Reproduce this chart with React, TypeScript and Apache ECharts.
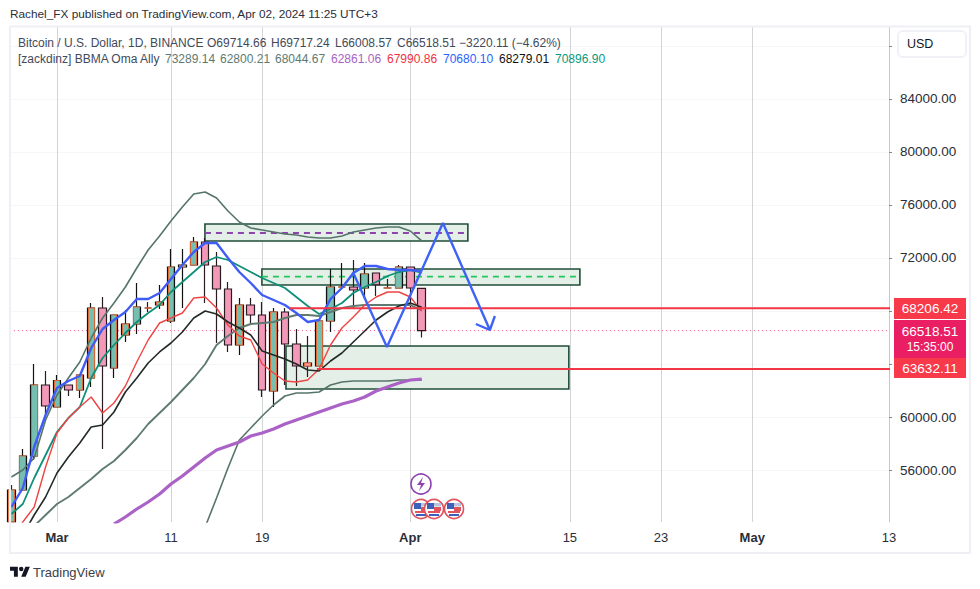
import React, { useEffect, useRef } from "react";
import * as echarts from "echarts";

const FIRST_DAY = -4; // day numbers count from Mar 1 = 0
const opens = [52100,54491,57057,62415,60755,62415,62038,62943,68226,63698,66188,67019,68226,68453,67245,71320,71471,73208,71396,69660,65434,68453,67698,61962,67924,65509,64075,63849,67245,69811,69811,69736,70868,69736,69736,71320,69714.66];
const closes = [54491,57057,62415,60830,62755,62038,63170,68226,63849,67698,67019,68302,68226,68679,71320,71471,73208,71471,69660,65434,68453,67698,62038,67924,65509,63849,63849,67245,69811,69811,69585,70792,69981,69736,71320,69736,66518.51];
const lows = [52100,54491,56755,60151,60755,61585,61434,62264,57585,62943,65660,66264,67924,68151,67094,68226,71471,68603,65585,64906,64679,66943,61509,60755,62415,62340,63019,63849,66415,69811,68151,68906,69132,69736,69736,68226,66008.57];
const highs = [54868,57585,64000,63471,63170,62415,63170,68603,69056,67698,68075,70113,68679,69962,72679,72679,73585,73509,72453,70189,68981,68981,68679,68226,68226,66641,66113,67245,71170,71623,71849,71623,70868,70415,71471,71320,69717.24];
const upperBand = [55472,56000,56906,59774,61660,62943,64151,65962,67471,68603,69811,71245,72603,73660,74792,75849,76830,76981,76528,75547,74717,74264,74113,73962,73811,73735,73585,73509,73509,73660,73962,74113,74264,74339,74339,74037,73289];
const middleBand = [51094,51472,51774,52604,53434,53962,54642,55321,56075,56679,57509,58415,59472,60302,61132,62038,62943,64000,65434,66113,66717,67019,67094,67170,67471,67698,67698,67623,67924,68226,68377,68453,68453,68453,68453,68453,68045];
const lowerBand = [null,null,null,null,null,null,null,null,null,null,null,null,null,null,null,null,49434,51698,53887,56151,58264,59170,60075,60906,61585,61811,61811,61887,62415,62641,62717,62717,62717,62717,62792,62792,62800];
const purpleLine = [null,null,null,null,null,null,null,null,null,51925,52453,53057,53585,54189,54943,55547,56226,56906,57509,57811,58113,58566,58792,59094,59472,59774,60075,60377,60679,60981,61208,61509,61962,62264,62566,62792,62861];
const blueLine = [53208,54642,57736,60151,62189,62717,63094,65208,66641,67321,67924,68906,68906,69358,70415,71471,72453,73132,73132,72000,70943,70113,69207,68830,68453,67849,67170,67321,68906,69736,70868,71396,71396,71170,71094,71094,71000];
const greenLine = [52679,53434,55396,57132,58868,59924,60755,62943,64453,65434,66339,67170,67849,68453,69434,70189,70943,71698,72075,71849,71396,70943,70490,70113,69736,69056,68377,67773,68151,68603,69358,69811,70189,70641,70943,71094,70897];
const redLine = [50717,52076,53208,56226,58792,59924,60755,61509,60302,61057,62340,64151,65811,67094,67471,67849,68981,69056,68226,66943,66113,65811,64000,63321,62717,62641,62792,63623,65434,66717,67547,68453,69056,69434,69434,69056,67991];
const blackLine = [49962,51094,52604,53962,55774,56981,58038,59245,59396,60377,61887,62943,64075,64906,65585,66415,67471,68000,67773,67170,66717,66188,64981,64679,64377,64000,63547,63472,64226,64830,65660,66490,67321,67924,68377,68603,68279];

const orangeEdgedDownDays = [8, 11, 22];
const priceTicks = [56000,60000,64000,68000,72000,76000,80000,84000,88000];
const priceLabels = [56000,60000,72000,76000,80000,84000];
const timeTicks = [0,10,18,31,45,53,61,73];
const timeLabels: Record<number,string> = {0:"Mar",10:"11",18:"19",31:"Apr",45:"15",53:"23",61:"May",73:"13"};
const boldLabels = ["Mar","Apr","May"];

const zones = [
  { from: 12.98, to: 36.05, top: 74566, bottom: 73283 },
  { from: 17.98, to: 45.88, top: 71170, bottom: 69962 },
  { from: 20.09, to: 44.91, top: 65358, bottom: 62113 },
];
const purpleDash = [[12.98,73886],[36.05,73886]];
const greenDash = [[17.98,70600],[45.88,70600]];
const resistance = [[20.4,68206.42],[73.5,68206.42]];
const support = [[22.8,63632.11],[73.5,63632.11]];
const lastPrice = [[-4.13,66518.51],[73.5,66518.51]];
const forecastPath = [[25.96,70943],[28.95,65283],[33.86,74641],[37.98,66566],[36.75,67019],[37.98,66566],[38.42,67623]];

const titleText = "Rachel_FX published on TradingView.com, Apr 02, 2024 11:25 UTC+3";
const legendRow1 = [
  { t: "Bitcoin / U.S. Dollar, 1D, BINANCE", x: 18 },
  { t: "O69714.66", x: 207 },
  { t: "H69717.24", x: 271 },
  { t: "L66008.57", x: 335 },
  { t: "C66518.51", x: 397 },
  { t: "\u22123220.11 (\u22124.62%)", x: 459 },
];
const legendRow2 = [
  { t: "[zackdinz] BBMA Oma Ally", x: 18, c: "#3f4a5a" },
  { t: "73289.14", x: 165, c: "#5d7a70" },
  { t: "62800.21", x: 220, c: "#5d7a70" },
  { t: "68044.67", x: 275, c: "#5d7a70" },
  { t: "62861.06", x: 331, c: "#a863c4" },
  { t: "67990.86", x: 387, c: "#ef3340" },
  { t: "70680.10", x: 443, c: "#2962ff" },
  { t: "68279.01", x: 499, c: "#111111" },
  { t: "70896.90", x: 555, c: "#089981" },
];
const priceTags = [
  { y: 298, h: 21, c: "#f7394a", lines: ["68206.42"] },
  { y: 320, h: 38, c: "#e91e63", lines: ["66518.51", "15:35:00"] },
  { y: 358, h: 20, c: "#f7394a", lines: ["63632.11"] },
];
const flagCenters = [421, 434, 454];

const FONT = "'Liberation Sans', Arial, sans-serif";
const LOGO = "M14 22H7V11H0V4h14v18zM28 22h-8l7.5-18h8L28 22zM24 8a4 4 0 1 1-8 0a4 4 0 0 1 8 0z";
echarts.graphic.registerShape("tvlogo", echarts.graphic.extendPath(LOGO, {}) as any);

const days = opens.map((_, i) => FIRST_DAY + i);
const withDays = (arr: (number | null)[]) => arr.map((v, i) => [days[i], v]);

function flagIcon(cx: number, z: number) {
  const cy = 509;
  return {
    type: "group",
    children: [
      { type: "circle", z, shape: { cx, cy, r: 9.5 }, style: { fill: "#fff", stroke: "#e2545e", lineWidth: 1.6 } },
      { type: "rect", z: z + 1, shape: { x: cx - 7, y: cy - 6, width: 14, height: 3.5 }, style: { fill: "#b9c6de" } },
      { type: "rect", z: z + 1, shape: { x: cx - 7, y: cy - 6, width: 7, height: 6 }, style: { fill: "#3b62b8" } },
      { type: "rect", z: z + 1, shape: { x: cx, y: cy - 2, width: 7, height: 4 }, style: { fill: "#e2545e" } },
      { type: "rect", z: z + 1, shape: { x: cx - 6, y: cy + 2, width: 12, height: 2 }, style: { fill: "#e2545e" } },
      { type: "rect", z: z + 1, shape: { x: cx - 5, y: cy + 5, width: 10, height: 2 }, style: { fill: "#3b62b8" } },
    ],
  };
}

export default function App() {
  const ref = useRef<HTMLDivElement>(null);
  useEffect(() => {
    document.body.style.margin = "0";
    const chart = echarts.init(ref.current!, undefined, { renderer: "svg" });
    const candles = days.map((d, i) => [d, opens[i], closes[i], lows[i], highs[i]]);
    const inner = days
      .map((d, i) => ({ d, i }))
      .filter(({ d, i }) => closes[i] >= opens[i] || orangeEdgedDownDays.includes(d))
      .map(({ d, i }) => [d, opens[i], closes[i], Math.min(opens[i], closes[i]), Math.max(opens[i], closes[i])]);
    const line = (name: string, data: any[], color: string, width: number, extra: any = {}) => ({
      type: "line", name, data, showSymbol: false, symbol: "none", silent: true, z: 4,
      connectNulls: false, lineStyle: { color, width }, ...extra,
    });
    const text: any[] = [
      { type: "text", x: 10, y: 14, z: 50, style: { text: titleText, fontSize: 11.8, fontFamily: FONT, fill: "#2a2e39", verticalAlign: "middle" } },
      ...legendRow1.map((r) => ({ type: "text", x: r.x, y: 42.5, z: 50, style: { text: r.t, fontSize: 12, fontFamily: FONT, fill: "#3f4a5a", verticalAlign: "middle" } })),
      ...legendRow2.map((r) => ({ type: "text", x: r.x, y: 59, z: 50, style: { text: r.t, fontSize: 12, fontFamily: FONT, fill: r.c, verticalAlign: "middle" } })),
      { type: "rect", z: 40, shape: { x: 10, y: 26.5, width: 960, height: 526.5 }, style: { fill: "none", stroke: "#eff0f6", lineWidth: 2.2 } },
      { type: "rect", z: 41, shape: { x: 898, y: 31, width: 68, height: 26, r: 5 }, style: { fill: "#fff", stroke: "#eff1f6", lineWidth: 2 } },
      { type: "text", x: 907, y: 44, z: 50, style: { text: "USD", fontSize: 12.5, fontFamily: FONT, fill: "#131722", verticalAlign: "middle" } },
      ...priceTags.flatMap((tag) => [
        { type: "rect", z: 45, shape: { x: 894, y: tag.y, width: 72, height: tag.h }, style: { fill: tag.c } },
        ...tag.lines.map((t, k) => ({
          type: "text", x: 930, y: tag.y + (tag.lines.length > 1 ? 11.5 + k * 15 : tag.h / 2), z: 50,
          style: { text: t, fontSize: k ? 12 : 13.5, fontFamily: FONT, fill: "#fff", align: "center", verticalAlign: "middle" },
        })),
      ]),
      { type: "circle", z: 30, shape: { cx: 421, cy: 484, r: 10 }, style: { fill: "#fff", stroke: "#8e3fb0", lineWidth: 1.6 } },
      { type: "polygon", z: 31, shape: { points: [[423, 477], [417, 485], [421, 485], [419, 491], [425, 483], [421, 483]] }, style: { fill: "#8e3fb0" } },
      ...flagCenters.map((cx, i) => flagIcon(cx, 30 + i * 2)),
      { type: "tvlogo", x: 10, y: 564.5, scaleX: 0.56, scaleY: 0.56, z: 50, style: { fill: "#131722" } },
      { type: "text", x: 33, y: 572, z: 50, style: { text: "TradingView", fontSize: 13, fontFamily: FONT, fill: "#3c4048", verticalAlign: "middle" } },
    ];
    chart.setOption({
      animation: false,
      backgroundColor: "#ffffff",
      textStyle: { fontFamily: FONT },
      grid: { left: 10, right: 91, top: 27, height: 495, containLabel: false },
      xAxis: {
        type: "value", min: -4.123, max: 73,
        axisLine: { show: false },
        axisTick: { show: false, customValues: timeTicks },
        splitLine: { show: true, lineStyle: { color: "#d2d4d8", width: 1 } },
        axisLabel: {
          customValues: timeTicks, margin: 9, fontSize: 13, color: "#2a2e39", fontFamily: FONT,
          showMinLabel: true, showMaxLabel: true, hideOverlap: false,
          formatter: (v: number) => {
            const s = timeLabels[v] ?? "";
            return boldLabels.includes(s) ? `{b|${s}}` : s;
          },
          rich: { b: { fontWeight: "bold", fontSize: 13, color: "#2a2e39", fontFamily: FONT } },
        },
      },
      yAxis: {
        type: "value", position: "right", min: 52076, max: 89433, scale: true,
        axisLine: { show: true, onZero: false, lineStyle: { color: "#c3c9cc", width: 1 } },
        axisTick: { show: true, length: 3, customValues: priceTicks, lineStyle: { color: "#7c9087" } },
        splitLine: { show: true, lineStyle: { color: "#f5f6f7", width: 1 } },
        axisLabel: {
          customValues: priceLabels, margin: 11, fontSize: 13.5, color: "#2a2e39", fontFamily: FONT,
          formatter: (v: number) => v.toFixed(2),
        },
      },
      graphic: { elements: text },
      series: [
        {
          type: "line", name: "zones", data: [], silent: true, z: 1,
          markArea: {
            silent: true, z: 1,
            itemStyle: { color: "#e4f0e7", borderColor: "#1f4d38", borderWidth: 1.6 },
            data: zones.map((q) => [{ coord: [q.from, q.top] }, { coord: [q.to, q.bottom] }]),
          },
        },
        line("zoneMidPurple", purpleDash, "#8e44ad", 1.8, { z: 2, lineStyle: { color: "#8e44ad", width: 1.8, type: [6, 5] } }),
        line("zoneMidGreen", greenDash, "#22c55e", 1.8, { z: 2, lineStyle: { color: "#22c55e", width: 1.8, type: [6, 5] } }),
        {
          type: "candlestick", name: "BTCUSD", data: candles, silent: true, z: 3, barWidth: 8,
          encode: { x: 0, y: [1, 2, 3, 4] },
          itemStyle: { color: "#76bfb0", color0: "#f299b8", borderColor: "#111111", borderColor0: "#2a1a22", borderWidth: 1.2 },
        },
        {
          type: "candlestick", name: "edges", data: inner, silent: true, z: 3, barWidth: 6.4,
          encode: { x: 0, y: [1, 2, 3, 4] },
          itemStyle: { color: "#76bfb0", color0: "#f299b8", borderColor: "#e8632c", borderColor0: "#e8632c", borderWidth: 0.9 },
        },
        line("lastPrice", lastPrice, "#f0568a", 1, { z: 2, clip: false, lineStyle: { color: "#f0568a", width: 1, type: [1, 3] } }),
        line("upperBand", withDays(upperBand), "#55756a", 1.6),
        line("lowerBand", withDays(lowerBand), "#55756a", 1.6),
        line("middleBand", withDays(middleBand), "#5f7a70", 1.9),
        line("purple", withDays(purpleLine), "#ab62c6", 3.2),
        line("green", withDays(greenLine), "#0f8f78", 1.8),
        line("blue", withDays(blueLine), "#3f5cf5", 2.4),
        line("red", withDays(redLine), "#ef4444", 1.4),
        line("black", withDays(blackLine), "#222a28", 1.6),
        line("resistance", resistance, "#f23645", 2, { clip: false, z: 5 }),
        line("support", support, "#f23645", 2, { clip: false, z: 5 }),
        line("forecast", forecastPath, "#3f63f5", 2.4, { z: 6 }),
      ],
    });
    return () => chart.dispose();
  }, []);
  return <div ref={ref} style={{ width: 980, height: 589, position: "absolute", left: 0, top: 0 }} />;
}
